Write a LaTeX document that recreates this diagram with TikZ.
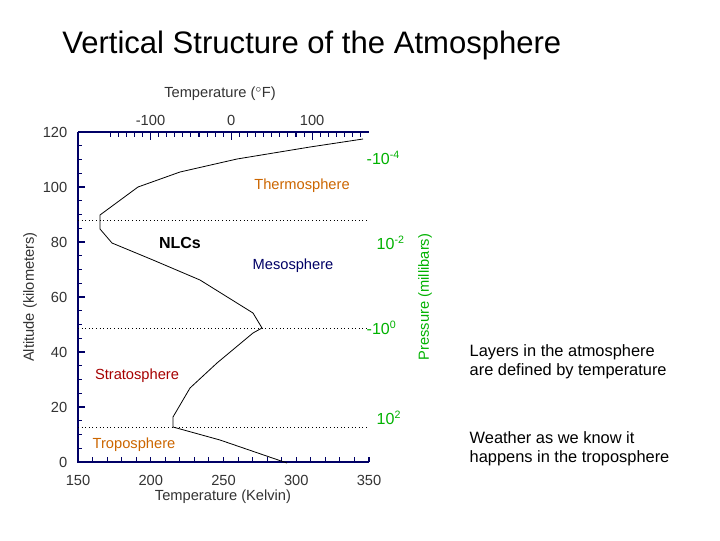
\documentclass[tikz,border=0pt]{standalone}
\usepackage{fontspec}
\setmainfont{Liberation Sans}
\begin{document}
\begin{tikzpicture}[x=0.75pt,y=-0.75pt,
  ax/.style={draw=blue!40!black,line width=0.8pt},
  tk/.style={font=\fontsize{11}{11}\selectfont,text=black!80},
  pr/.style={font=\fontsize{12}{12}\selectfont,text=green!70!black},
  lay/.style={font=\fontsize{11}{11}\selectfont},
  bound/.style={dotted,line width=0.7pt},
  note/.style={font=\fontsize{12.3}{14.5}\selectfont,align=left,anchor=north west}]
\useasboundingbox (0,0) rectangle (720,540);
\fill[white] (0,0) rectangle (720,540);
\node[font=\fontsize{19.5}{20}\selectfont,anchor=west,inner sep=0pt] (title) at (62,45) {\fontsize{23.3}{24}\selectfont Vertical Structure of the Atmosphere};
% axes
\draw[ax] (78,132) -- (78,462) -- (369,462);
\draw[ax] (78,132) -- (369,132);
\foreach \k in {0,5,...,120}{\draw[ax] (78,{462-2.75*\k}) -- (82,{462-2.75*\k});}
\foreach \k in {0,20,...,120}{\draw[ax] (78,{462-2.75*\k}) -- (85,{462-2.75*\k});
  \node[tk,anchor=east] (y\k) at (72,{462-2.75*\k}) {\k};}
\foreach \t in {150,160,...,350}{\draw[ax] ({78+1.455*(\t-150)},462) -- ({78+1.455*(\t-150)},457);}
\foreach \t in {150,200,...,350}{\node[tk] (x\t) at ({78+1.455*(\t-150)},480) {\t};}
\foreach \f in {-150,-140,...,160}{\pgfmathsetmacro\xx{78+1.455*((\f-32)*5/9+273.15-150)}
  \ifdim\xx pt<369pt \ifdim\xx pt>78pt \draw[ax] (\xx,132) -- (\xx,137);\fi\fi}
\foreach \f/\l in {-100/-100,0/0,100/100}{\pgfmathsetmacro\xx{78+1.455*((\f-32)*5/9+273.15-150)}
  \draw[ax] (\xx,132) -- (\xx,140); \node[tk] (f\l) at (\xx,120) {\l};}
\node[tk] (ftitle) at (220,94) {Temperature ($^\circ$F)};
\node[tk] (ktitle) at (223,497) {Temperature (Kelvin)};
\node[tk,rotate=90] (alt) at (30,297) {Altitude (kilometers)};
\node[tk,text=green!70!black,rotate=90] (ptitle) at (425,297) {Pressure (millibars)};
\node[pr,anchor=west] (p1) at (362,158) {-10\textsuperscript{-4}};
\node[pr,anchor=west] (p2) at (372,243) {10\textsuperscript{-2}};
\node[pr,anchor=west] (p3) at (362,328) {-10\textsuperscript{0}};
\node[pr,anchor=west] (p4) at (372,418) {10\textsuperscript{2}};
% boundaries
\draw[bound] (78,220) -- (369,220);
\draw[bound] (78,328) -- (369,328);
\draw[bound] (78,427) -- (369,427);
% profile
\draw[line width=0.6pt] (287,463) -- (220,440) -- (173,427) -- (173,417) -- (190,388) -- (217,363) -- (253,333) -- (262,328) -- (253,313) -- (200,280) -- (153,260) -- (112,243) -- (100,229) -- (100,215) -- (138,187) -- (180,172) -- (237,159) -- (310,147) -- (363,139);
% labels
\node[lay,text=orange!80!black] (thermo) at (302,186) {Thermosphere};
\node[lay,text=blue!40!black] (meso) at (293,266) {Mesosphere};
\node[lay,text=red!65!black] (strato) at (137,376) {Stratosphere};
\node[lay,text=orange!80!black] (tropo) at (134,445) {Troposphere};
\node[font=\fontsize{12}{12}\selectfont\bfseries] (nlc) at (180,243) {NLCs};
\node[note] (n1) at (465,340) {Layers in the atmosphere\\are defined by temperature};
\node[note] (n2) at (465,427) {Weather as we know it\\happens in the troposphere};
\end{tikzpicture}
\end{document}
